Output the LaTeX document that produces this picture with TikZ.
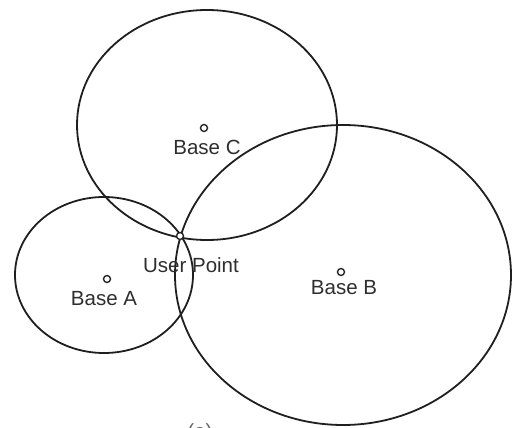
\documentclass[tikz,border=0pt]{standalone}
\usepackage{fontspec}
\setmainfont{Liberation Sans}
\begin{document}
\begin{tikzpicture}[x=1pt,y=-1pt,
  rangering/.style={draw=black!88, line width=1.8pt},
  site/.style={circle, draw=black!85, line width=1.4pt, fill=white, inner sep=0pt, minimum size=7pt},
  lbl/.style={font=\fontsize{20.5}{20.5}\selectfont, text=black!82, inner sep=0pt, anchor=base}]
\useasboundingbox (0,0) rectangle (512,428);
\clip (0,0) rectangle (512,428);
% centres of the three range ellipses
\coordinate (ca) at (104,275);
\coordinate (cb) at (343,275);
\coordinate (cc) at (207,125);
% range ellipses
\draw[rangering] (ca) ellipse [x radius=89pt, y radius=78pt];
\draw[rangering] (cc) ellipse [x radius=130pt, y radius=115pt];
\draw[rangering] (cb) ellipse [x radius=168pt, y radius=150pt];
% base stations and the user point
\node[site] (baseA) at (107,279) {};
\node[site] (baseB) at (341,272) {};
\node[site] (baseC) at (204,128) {};
\node[site] (user) at (180,236) {};
% labels
\node[lbl] (labA) at (104,305) {Base A};
\node[lbl] (labB) at (344,294) {Base B};
\node[lbl] (labC) at (207,154) {Base C};
\node[lbl] (labU) at (191,272) {User Point};
\node[lbl, text=black!60] (cap) at (200,438) {(a)};
\end{tikzpicture}
\end{document}
